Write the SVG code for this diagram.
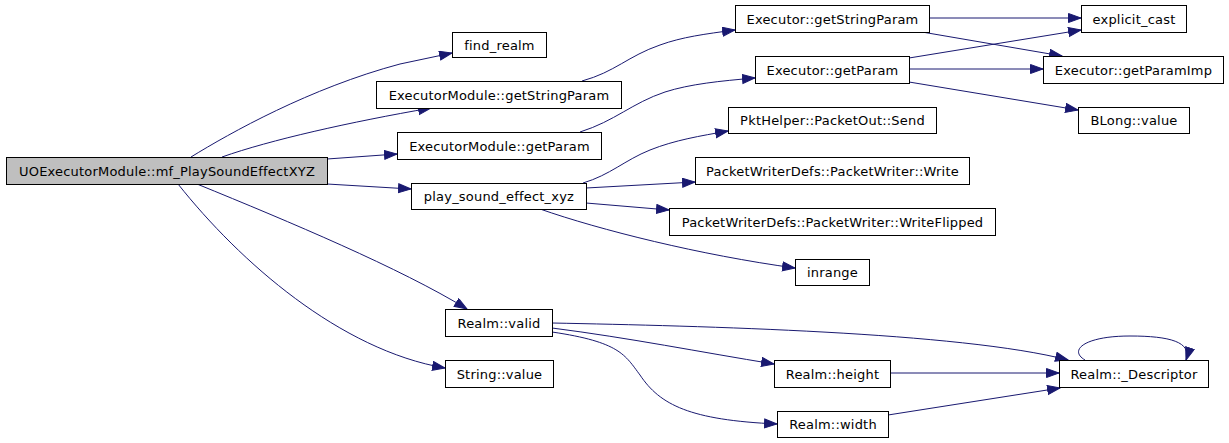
<svg xmlns="http://www.w3.org/2000/svg" width="1229" height="443" viewBox="0 0 1229 443">
<style>
.n rect{fill:#ffffff;stroke:#000000;stroke-width:1}
.root rect{fill:#bfbfbf}
.n text{font-family:"DejaVu Sans",sans-serif;font-size:13px;letter-spacing:0.2px;fill:#000000;text-anchor:middle}
#edges path{fill:none;stroke:#191970;stroke-width:1;marker-end:url(#ah)}
</style>
<defs>
<marker id="ah" markerUnits="userSpaceOnUse" markerWidth="15" markerHeight="11" refX="13" refY="5" orient="auto" viewBox="0 0 15 11">
<path d="M0.5,0.5 L13,5 L0.5,9.5 z" fill="#191970" stroke="#191970" stroke-width="1"/>
</marker>
</defs>
<rect width="1229" height="443" fill="#ffffff"/>
<g id="edges">
<path d="M191,157 C230,133 310,88 400,64 L452,53"/>
<path d="M222,157 C270,140 350,122 431,108"/>
<path d="M327,159 L397,154"/>
<path d="M327,184 L411,189"/>
<path d="M197,184 C290,222 400,268 467,309"/>
<path d="M178,184 C240,262 340,350 445,368"/>
<path d="M582,81 C615,72 628,56 660,45 C682,37 705,34 735,30"/>
<path d="M580,132 C615,121 632,103 665,92 C690,84 720,81 755,78"/>
<path d="M583,183 C610,175 625,160 650,150 C675,140 700,136 728,131"/>
<path d="M586,188 L695,182"/>
<path d="M586,203 L669,210"/>
<path d="M540,209 C600,230 700,255 795,268"/>
<path d="M929,18 L1081,18"/>
<path d="M922,32 L1062,56"/>
<path d="M909,58 L1081,30"/>
<path d="M909,69 L1043,69"/>
<path d="M909,82 L1078,110"/>
<path d="M552,323 C700,326 960,332 1068,360"/>
<path d="M552,328 C630,338 700,352 774,364"/>
<path d="M552,332 C620,342 625,355 640,375 C660,405 690,420 777,424"/>
<path d="M890,373 L1059,373"/>
<path d="M888,415 L1060,388"/>
<path d="M1085,360 C1068,350 1085,336 1130,336 C1170,336 1192,342 1186,360"/>
</g>
<g id="n0" class="n root"><rect x="6.5" y="157.5" width="321" height="27"/><text x="167" y="175.5">UOExecutorModule::mf_PlaySoundEffectXYZ</text></g>
<g id="n1" class="n"><rect x="452.5" y="32.5" width="94" height="25"/><text x="499.5" y="49.5">find_realm</text></g>
<g id="n2" class="n"><rect x="376.5" y="81.5" width="245" height="27"/><text x="499" y="99.5">ExecutorModule::getStringParam</text></g>
<g id="n3" class="n"><rect x="397.5" y="132.5" width="204" height="27"/><text x="499.5" y="150.5">ExecutorModule::getParam</text></g>
<g id="n4" class="n"><rect x="411.5" y="183.5" width="175" height="26"/><text x="499" y="201">play_sound_effect_xyz</text></g>
<g id="n5" class="n"><rect x="445.5" y="309.5" width="107" height="27"/><text x="499" y="327.5">Realm::valid</text></g>
<g id="n6" class="n"><rect x="445.5" y="360.5" width="108" height="27"/><text x="499.5" y="378.5">String::value</text></g>
<g id="n7" class="n"><rect x="735.5" y="5.5" width="194" height="27"/><text x="832.5" y="23.5">Executor::getStringParam</text></g>
<g id="n8" class="n"><rect x="755.5" y="56.5" width="154" height="27"/><text x="832.5" y="74.5">Executor::getParam</text></g>
<g id="n9" class="n"><rect x="728.5" y="107.5" width="208" height="26"/><text x="832.5" y="125">PktHelper::PacketOut::Send</text></g>
<g id="n10" class="n"><rect x="695.5" y="157.5" width="274" height="27"/><text x="832.5" y="175.5">PacketWriterDefs::PacketWriter::Write</text></g>
<g id="n11" class="n"><rect x="669.5" y="208.5" width="326" height="27"/><text x="832.5" y="226.5">PacketWriterDefs::PacketWriter::WriteFlipped</text></g>
<g id="n12" class="n"><rect x="795.5" y="259.5" width="74" height="26"/><text x="832.5" y="277">inrange</text></g>
<g id="n13" class="n"><rect x="1081.5" y="5.5" width="105" height="27"/><text x="1134" y="23.5">explicit_cast</text></g>
<g id="n14" class="n"><rect x="1043.5" y="56.5" width="180" height="27"/><text x="1133.5" y="74.5">Executor::getParamImp</text></g>
<g id="n15" class="n"><rect x="1078.5" y="107.5" width="111" height="26"/><text x="1134" y="125">BLong::value</text></g>
<g id="n16" class="n"><rect x="774.5" y="360.5" width="116" height="27"/><text x="832.5" y="378.5">Realm::height</text></g>
<g id="n17" class="n"><rect x="777.5" y="411.5" width="111" height="26"/><text x="833" y="429">Realm::width</text></g>
<g id="n18" class="n"><rect x="1059.5" y="360.5" width="149" height="27"/><text x="1134" y="378.5">Realm::_Descriptor</text></g>
</svg>
